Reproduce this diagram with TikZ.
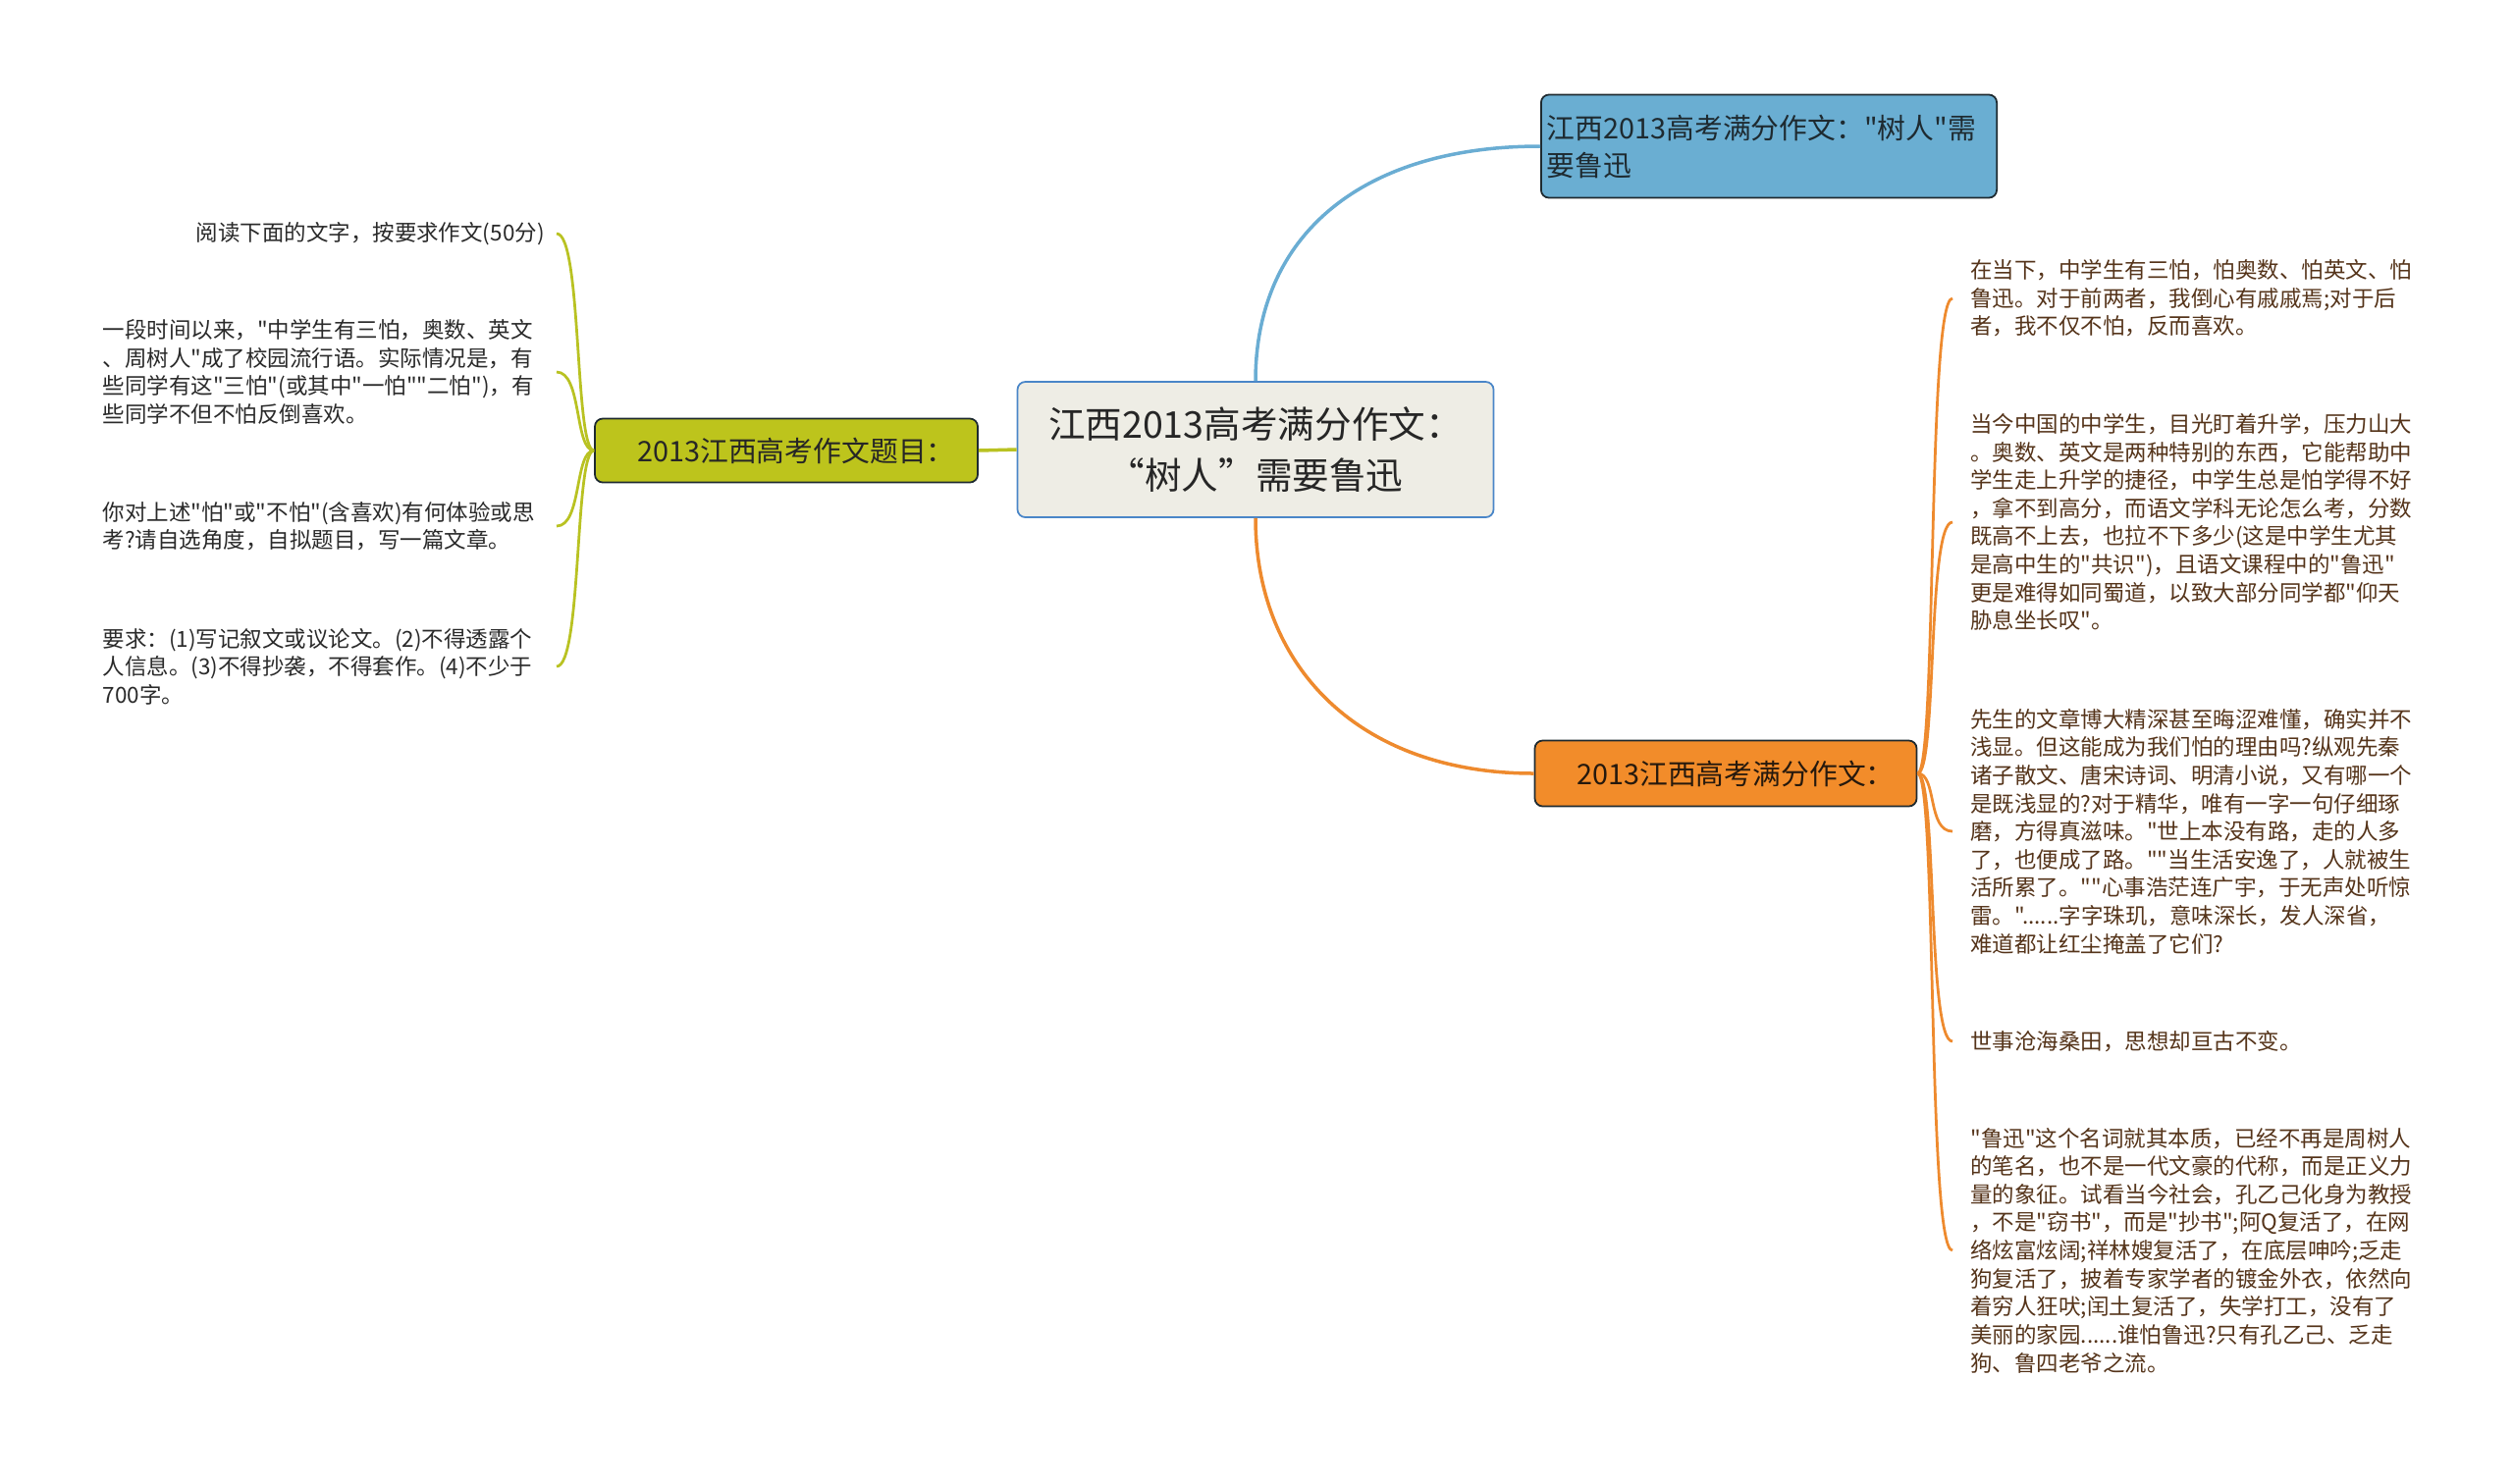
\documentclass[tikz,border=0pt]{standalone}
\usepackage{fontspec}
\setmainfont{Noto Sans CJK SC}[Ligatures=TeXOff]
\usetikzlibrary{positioning}
\definecolor{rootfill}{HTML}{EEEDE5}
\definecolor{rootline}{HTML}{4A86C8}
\definecolor{topicblue}{HTML}{6AAED2}
\definecolor{topicgreen}{HTML}{BDC41C}
\definecolor{topicorange}{HTML}{F28C2A}
\definecolor{edgeblue}{HTML}{6AADD3}
\definecolor{edgegreen}{HTML}{B9C222}
\definecolor{edgeorange}{HTML}{EE8A2E}
\definecolor{boxline}{HTML}{1E2A30}
\definecolor{leafdark}{HTML}{2A2A2A}
\definecolor{leafbrown}{HTML}{55341A}

\begin{document}
\begin{tikzpicture}[x=0.2mm, y=-0.2mm,
  rootbox/.style={draw=rootline, fill=rootfill, line width=0.35mm, rounded corners=1.6mm,
    align=center, text=black!85, minimum width=97mm, minimum height=27.6mm,
    font=\fontsize{21.4}{29.6}\selectfont},
  topicbox/.style={draw=boxline, line width=0.35mm, rounded corners=1.6mm,
    font=\fontsize{16.4}{21.6}\selectfont},
  leaf/.style={inner xsep=2.4mm, inner ysep=0mm, text width=90mm,
    font=\fontsize{12.8}{16.3}\selectfont},
  greenedge/.style={edgegreen, line width=0.55mm},
  orangeedge/.style={edgeorange, line width=0.55mm}]
  \path[fill=white] (0,0) rectangle (2560,1511);
  \useasboundingbox (0,0) rectangle (2560,1511);

  % --- centre ---
  \node[rootbox] (root) at (1279,458) {江西2013高考满分作文：\\“树人”需要鲁迅};

  % --- main topics ---
  \node[topicbox, fill=topicblue, text=boxline, align=left, text width=90.5mm,
    minimum height=21mm] (essay) at (1802,149) {江西2013高考满分作文："树人"需\\要鲁迅};
  \node[topicbox, fill=topicorange, text=black!80!brown, minimum width=77.8mm,
    minimum height=13.4mm] (fullmark) at (1758,788) {\hspace*{4mm}2013江西高考满分作文：};
  \node[topicbox, fill=topicgreen, text=black!85, minimum width=78mm,
    minimum height=13mm] (title) at (801,459) {\hspace*{4mm}2013江西高考作文题目：};

  \draw[edgeblue, line width=0.7mm] (root.north) .. controls +(0,-150) and +(-180,0) .. (essay.west);
  \draw[edgeorange, line width=0.7mm] (root.south) .. controls +(0,150) and +(-180,0) .. (fullmark.west);
  \draw[edgegreen, line width=0.7mm] (root.west) -- (title.east);

  % --- left: exam question ---
  \node[leaf, text=leafdark, align=right, anchor=east] (q1) at (567,238)
    {阅读下面的文字，按要求作文(50分)};
  \node[leaf, text=leafdark, align=left, anchor=east] (q2) at (567,379)
    {一段时间以来，"中学生有三怕，奥数、英文\\、周树人"成了校园流行语。实际情况是，有\\些同学有这"三怕"(或其中"一怕""二怕")，有\\些同学不但不怕反倒喜欢。};
  \node[leaf, text=leafdark, align=left, anchor=east] (q3) at (567,536)
    {你对上述"怕"或"不怕"(含喜欢)有何体验或思\\考?请自选角度，自拟题目，写一篇文章。};
  \node[leaf, text=leafdark, align=left, anchor=east] (q4) at (567,679)
    {要求：(1)写记叙文或议论文。(2)不得透露个\\人信息。(3)不得抄袭，不得套作。(4)不少于\\700字。};

  \foreach \leafname in {q1,q2,q3,q4}
    \draw[greenedge] (title.west) .. controls +(-20,0) and +(26,0) .. (\leafname.east);

  % --- right: full-mark essay ---
  \node[leaf, text=leafbrown, align=left, anchor=west, inner xsep=3.6mm] (p1) at (1989,304)
    {在当下，中学生有三怕，怕奥数、怕英文、怕\\鲁迅。对于前两者，我倒心有戚戚焉;对于后\\者，我不仅不怕，反而喜欢。};
  \node[leaf, text=leafbrown, align=left, anchor=west, inner xsep=3.6mm] (p2) at (1989,532)
    {当今中国的中学生，目光盯着升学，压力山大\\。奥数、英文是两种特别的东西，它能帮助中\\学生走上升学的捷径，中学生总是怕学得不好\\，拿不到高分，而语文学科无论怎么考，分数\\既高不上去，也拉不下多少(这是中学生尤其\\是高中生的"共识")，且语文课程中的"鲁迅"\\更是难得如同蜀道，以致大部分同学都"仰天\\胁息坐长叹"。};
  \node[leaf, text=leafbrown, align=left, anchor=west, inner xsep=3.6mm] (p3) at (1989,847)
    {先生的文章博大精深甚至晦涩难懂，确实并不\\浅显。但这能成为我们怕的理由吗?纵观先秦\\诸子散文、唐宋诗词、明清小说，又有哪一个\\是既浅显的?对于精华，唯有一字一句仔细琢\\磨，方得真滋味。"世上本没有路，走的人多\\了，也便成了路。""当生活安逸了，人就被生\\活所累了。""心事浩茫连广宇，于无声处听惊\\雷。"......字字珠玑，意味深长，发人深省，\\难道都让红尘掩盖了它们?};
  \node[leaf, text=leafbrown, align=left, anchor=west, inner xsep=3.6mm] (p4) at (1989,1061)
    {世事沧海桑田，思想却亘古不变。};
  \node[leaf, text=leafbrown, align=left, anchor=west, inner xsep=3.6mm] (p5) at (1989,1274)
    {"鲁迅"这个名词就其本质，已经不再是周树人\\的笔名，也不是一代文豪的代称，而是正义力\\量的象征。试看当今社会，孔乙己化身为教授\\，不是"窃书"，而是"抄书";阿Q复活了，在网\\络炫富炫阔;祥林嫂复活了，在底层呻吟;乏走\\狗复活了，披着专家学者的镀金外衣，依然向\\着穷人狂吠;闰土复活了，失学打工，没有了\\美丽的家园......谁怕鲁迅?只有孔乙己、乏走\\狗、鲁四老爷之流。};

  \foreach \leafname in {p1,p2,p3,p4,p5}
    \draw[orangeedge] (fullmark.east) .. controls +(20,0) and +(-26,0) .. (\leafname.west);
\end{tikzpicture}
\end{document}
